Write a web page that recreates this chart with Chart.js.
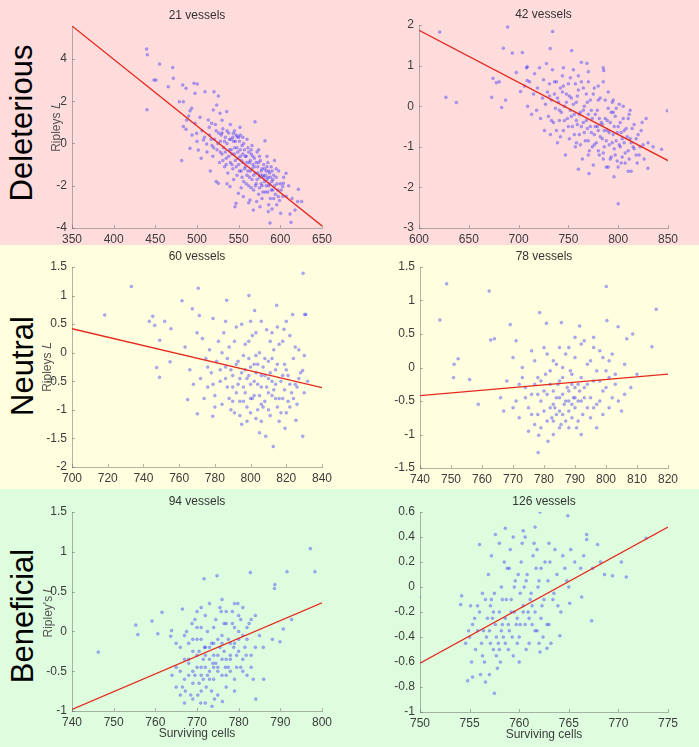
<!DOCTYPE html>
<html>
<head>
<meta charset="utf-8">
<script src="https://cdn.jsdelivr.net/npm/chart.js@4.4.1/dist/chart.umd.min.js"></script>
<style>
html, body { margin: 0; padding: 0; }
body { width: 699px; height: 747px; position: relative; overflow: hidden; font-family: "Liberation Sans", Arial, sans-serif; }
.band { position: absolute; left: 0; width: 699px; }
.rowlabel { position: absolute; font-size: 31px; color: #000; white-space: nowrap; transform: translate(-50%, -50%) rotate(-90deg); }
canvas { position: absolute; }
</style>
</head>
<body>
<div class="band" style="top:0;height:245px;background:rgb(255,220,220)"></div>
<div class="band" style="top:245px;height:244px;background:rgb(255,254,222)"></div>
<div class="band" style="top:489px;height:258px;background:rgb(222,253,222)"></div>
<div class="rowlabel" style="left:22px;top:123px">Deleterious</div>
<div class="rowlabel" style="left:23px;top:366px">Neutral</div>
<div class="rowlabel" style="left:23px;top:616px">Beneficial</div>
<script>
// ---- data: surviving cells vs Ripley's L, one cloud + fitted line per panel ----
const titles = ['21 vessels', '42 vessels', '60 vessels', '78 vessels', '94 vessels', '126 vessels'];

const xTicks21 = [350, 400, 450, 500, 550, 600, 650];
const yTicks21 = [-4, -2, 0, 2, 4];
const fit21 = [[350, 5.56], [650, -3.9]];
const pts21 = [
  [439.6,4.47],[440.4,4.2],[455,3.76],[470.8,3.6],[448.4,3.0],[450.8,3.0],[471.6,3.09],[465.6,2.69],[482.8,2.77],[486.8,2.61],
  [496.4,2.85],[500.4,2.82],[497.6,2.38],[509.6,2.45],[520.4,2.45],[525.6,2.25],[478.8,1.98],[483.6,1.98],[491.6,1.55],[493.6,1.67],
  [487.6,1.11],[483.6,0.8],[486.8,0.67],[497.6,0.96],[499.6,0.48],[503.6,1.24],[513.6,1.11],[517.6,0.96],[514.8,0.77],[507.6,0.17],
  [511.6,-0.02],[491.6,-0.23],[501.6,-0.31],[481.6,-0.81],[440,1.6],[519.6,1.59],[523.6,1.82],[527.6,1.43],[535.6,1.51],[569.6,1.03],
  [581.6,0.13],[543.6,0.48],[548.4,0.32],[551.6,0.77],[606.8,-1.41],[603.6,-1.88],[621.6,-2.17],[625.6,-2.75],[611.6,-3.34],[600.4,-3.3],
  [585.6,-3.22],[567.6,-3.15],[545.6,-2.99],[546.8,-2.83],[525.6,-1.88],[539.6,-2.04],[549.6,-2.36],[555.6,-2.51],[563.6,-2.67],[571.6,-2.75],
  [575.6,-2.99],[597.6,-2.51],[595.6,-2.9],[602.8,-2.04],[617.6,-3.15],[612.8,-3.73],[587.6,-3.76],[620.8,-2.74],
  [506,0.6],[509,0.3],[512,-0.4],[515,0.4],[518,-0.1],[519,-0.6],[521,0.2],[522,0.9],[524,-0.3],[526,0.5],[527,-0.9],[528,0.1],
  [530,-0.5],[531,0.7],[532,-0.2],[533,-1.1],[534,0.3],[535,-0.7],[536,0.0],[537,-1.4],[538,0.5],[539,-0.3],[540,-0.9],[541,0.2],
  [542,-0.5],[543,-1.2],[544,0.1],[545,-0.2],[546,-0.8],[547,0.4],[548,-1.5],[549,-0.4],[550,-1.0],[551,0.1],[552,-0.6],[553,-1.3],
  [554,-0.1],[555,-0.9],[556,-1.8],[557,-0.3],[558,-1.1],[559,-0.6],[560,-1.5],[561,-0.2],[562,-2.0],[563,-0.9],[564,-1.3],[565,-0.5],
  [566,-1.7],[567,-1.0],[568,-2.2],[569,-0.7],[570,-1.4],[571,-1.9],[572,-0.4],[573,-1.1],[574,-2.4],[575,-1.6],[576,-0.8],[577,-1.3],
  [578,-2.0],[579,-1.5],[580,-1.0],[581,-1.8],[582,-2.3],[583,-1.3],[584,-0.6],[585,-1.6],[586,-2.0],[587,-1.4],[588,-2.6],[589,-1.1],
  [590,-1.8],[591,-2.2],[592,-1.5],[594,-2.4],[596,-1.9],[598,-1.3],[599,-2.7],[601,-2.2],[604,-1.6],[607,-2.5],[610,-2.0],[614,-2.6],
  [540,0.9],[544,-1.7],[552,0.4],[560,0.2],[566,-0.1],[574,-0.3],[585,-0.9],[593,-0.8],[530,1.1],[516,-1.3],[523,-1.8],[536,-1.9],
  [505,-0.7],[500,0.1],[494,0.4],[490,1.3],[553,-2.1],[562,-2.8],[578,-2.6],[586,-2.9],[590,-3.1],
  [517,0.2],[520,-0.2],[523,0.6],[525,0.0],[528,-0.4],[529,0.4],[531,-0.8],[533,0.1],[534,-0.4],[536,0.6],[538,-0.6],[539,0.2],
  [541,-0.3],[542,-1.0],[543,0.3],[545,-0.5],[546,0.1],[547,-1.1],[548,-0.2],[549,-0.7],[550,0.3],[551,-1.3],[552,-0.3],[553,-0.8],
  [554,-1.6],[555,-0.5],[556,0.0],[557,-1.2],[558,-0.6],[559,-1.9],[560,-0.9],[561,-1.3],[562,-0.4],[563,-1.6],[564,-0.8],[565,-2.1],
  [566,-1.2],[567,-0.6],[568,-1.5],[569,-1.1],[570,-2.0],[571,-0.9],[572,-1.7],[573,-1.4],[574,-0.9],[575,-2.1],[576,-1.5],[577,-1.9],
  [578,-1.2],[579,-2.3],[580,-1.6],[581,-1.2],[582,-1.5],[583,-2.0],[584,-1.7],[585,-2.3],[586,-1.3],[587,-1.9],[588,-1.6],[589,-2.2],
  [590,-1.3],[591,-1.7],[592,-2.6],[593,-2.0],[595,-1.6],[597,-2.2],[600,-1.9],[603,-2.5],[530,0.5],[535,-1.0],[545,0.6],[555,0.3],
  [565,-0.3],[575,-0.6],[584,-1.1],[595,-1.2]
];

const xTicks42 = [600, 650, 700, 750, 800, 850];
const yTicks42 = [-3, -2, -1, 0, 1, 2];
const fit42 = [[600, 1.87], [850, -1.34]];
const pts42 = [
  [620.7,1.83],[637.5,0.09],[627,0.22],[689,1.95],[684.7,1.43],[693.7,1.31],[703.8,1.32],[674.3,0.69],[677.7,0.58],[683,-0.03],
  [687,0.15],[697.7,0.83],[734.2,1.84],[731.7,1.42],[753.3,1.37],[849.3,-0.11],[843.5,-1.06],[800,-2.4],[829.8,-1.53],[770.7,-1.66],
  [795.8,-1.74],[763,1.08],[768.6,1.06],[785,0.95],[785.5,0.88],[673,0.22],[680.6,0.6],[702,0.36],[708.7,0.63],[708.7,0.97],
  [706,0.5],[708,0.95],[709,0.0],[711,0.6],[713,-0.2],[715,0.3],[716,0.8],[718,-0.1],[719,0.45],[721,0.95],[722,-0.3],[724,0.2],
  [725,0.65],[726,-0.6],[727,0.05],[728,1.05],[729,0.35],[730,-0.25],[731,0.55],[732,-0.7],[733,0.15],[734,0.9],[735,-0.4],[736,0.3],
  [737,-0.05],[738,0.6],[739,-0.9],[740,0.1],[741,-0.35],[742,0.45],[743,-0.15],[744,0.75],[745,-0.6],[746,0.0],[747,-1.2],[748,0.3],
  [749,-0.3],[750,0.55],[751,-0.8],[752,-0.1],[753,0.2],[754,-0.5],[755,0.9],[756,-0.2],[757,-1.0],[758,0.1],[759,-0.45],[760,0.4],
  [761,-0.7],[762,-0.15],[763,0.6],[764,-1.3],[765,-0.4],[766,0.0],[767,-0.85],[768,0.3],[769,-0.55],[770,-0.2],[771,-1.1],[772,0.15],
  [773,-0.65],[774,-0.3],[775,-1.45],[776,0.45],[777,-0.5],[778,-0.9],[779,-0.1],[780,-0.6],[781,-1.2],[782,0.2],[783,-0.4],[784,-0.8],
  [785,0.6],[786,-1.0],[787,-0.3],[788,-1.5],[789,-0.6],[790,-0.05],[791,-0.95],[792,-0.4],[793,-1.25],[794,0.1],[795,-0.7],[796,-1.05],
  [797,-0.25],[798,-0.85],[799,-1.35],[800,-0.5],[801,0.05],[802,-1.0],[803,-0.65],[804,-1.25],[805,-0.3],[806,-0.9],[807,-1.4],[808,-0.55],
  [810,-1.1],[811,-0.2],[812,-0.8],[813,-1.6],[815,-1.0],[816,-0.45],[818,-1.2],[820,-0.7],[822,-1.0],[824,-0.4],[826,-1.3],[828,-0.3],
  [830,-0.9],[835,-1.0],[760,-1.55],[745,0.95],[738,-0.6],[752,0.7],[765,0.45],[775,0.3],[790,0.35],[780,0.15],[770,0.6],[758,-0.9],
  [742,-0.75],[795,-0.15],[805,0.0],[812,-0.1],[785,-1.3],[800,-1.5],[810,-1.6],[770,-1.2],[776,-0.95],[790,-1.5],
  [731,0.25],[733,-0.35],[736,0.6],[739,0.2],[741,-0.1],[744,0.35],[746,-0.35],[748,0.1],[750,-0.5],[751,0.25],[753,-0.25],[755,0.05],
  [756,-0.7],[758,-0.35],[759,0.25],[761,-0.2],[762,-0.95],[763,-0.5],[765,-0.1],[766,-0.65],[768,-0.35],[769,0.1],[770,-0.85],[772,-0.5],
  [773,-0.1],[774,-1.0],[776,-0.7],[777,-0.2],[779,-0.5],[780,-1.1],[781,-0.3],[782,-0.75],[784,-0.45],[785,-1.15],[786,-0.6],[787,0.15],
  [788,-0.85],[789,-0.35],[791,-0.65],[792,-1.3],[793,-0.15],[794,-0.9],[796,-0.5],[797,-1.2],[798,-0.05],[799,-0.65],[801,-0.95],[802,-0.4],
  [803,-1.4],[804,-0.8],[806,-0.6],[807,-1.15],[809,-0.75],[810,-0.3],[811,-1.3],[813,-0.9],[814,-0.55],[816,-1.05],[818,-0.8],[819,-1.4],
  [821,-1.2],[823,-0.6],[825,-0.95],[760,0.75],[770,0.85],[780,0.5],[745,0.5],[757,0.55],[795,0.15]
];

const xTicks60 = [700, 720, 740, 760, 780, 800, 820, 840];
const yTicks60 = [-2, -1.5, -1, -0.5, 0, 0.5, 1, 1.5];
const fit60 = [[700, 0.42], [840, -0.61]];
const pts60 = [
  [718.3,0.66],[733.2,1.16],[743.3,0.55],[745.2,0.64],[746.3,0.48],[747.4,-0.26],[749,-0.43],[749.1,0.22],[751.9,0.55],[754.9,-0.16],
  [755.4,0.42],[761.6,0.91],[763.3,0.1],[764.8,-0.82],[767.4,0.77],[770.7,1.13],[771.3,0.65],[770.2,-1.07],[778.8,-1.11],[786.6,0.92],
  [799.1,1.0],[802.3,0.74],[814.6,0.83],[812.7,-1.64],[808.5,-1.46],[829.4,1.39],[830.3,0.67],[831,0.67],[829.2,-1.46],[825.4,-1.18],
  [819.3,-1.32],[818.7,0.41],[823.6,0.67],[830.1,-0.05],[829.2,-0.31],
  [766,-0.3],[768,-0.55],[770,0.35],[772,-0.45],[773,0.25],[775,-0.1],[776,-0.6],[777,0.05],[778,-0.35],[779,0.6],[780,-0.75],[781,-0.15],
  [782,0.2],[783,-0.5],[784,-0.9],[785,0.35],[786,-0.25],[787,-0.6],[788,0.1],[789,-1.0],[790,-0.4],[791,0.2],[792,-0.7],[793,-0.15],
  [794,-0.45],[795,0.5],[796,-0.85],[797,-0.3],[798,-1.2],[799,-0.1],[800,-0.55],[801,0.3],[802,-0.75],[803,-0.35],[804,-1.0],[805,0.0],
  [806,-0.6],[807,-0.25],[808,-0.85],[809,0.4],[810,-0.45],[811,-1.1],[812,-0.1],[813,-0.65],[814,-0.3],[815,-0.95],[816,0.15],[817,-0.5],
  [818,-0.8],[819,-0.2],[820,-1.05],[821,-0.4],[822,0.3],[823,-0.7],[824,-0.1],[825,-0.55],[826,-0.9],[827,0.05],[828,-0.35],[830,-0.7],
  [832,-0.5],[798,-0.45],[802,-0.2],[806,-0.9],[810,-0.7],[804,-0.55],[800,-0.8],[796,-0.6],[808,-0.4],[812,-0.5],[814,-0.8],[790,-0.85],
  [794,-1.1],[800,-1.05],[806,-1.2],[816,-1.2],[786,0.55],[792,0.45],[799,0.2],[806,0.55],[812,0.35],[818,0.2],[780,-0.95],[784,0.0],
  [822,-0.95],[826,-0.6],[810,-0.15],[803,-0.05],
  [786,-0.45],[787,-0.1],[788,-0.8],[789,-0.3],[790,-0.6],[791,-1.05],[792,-0.2],[793,-0.55],[794,-0.85],[795,-0.35],[796,-0.05],[797,-0.7],
  [798,-0.95],[799,-0.4],[800,-0.25],[801,-0.8],[802,-0.5],[803,-1.15],[804,-0.2],[805,-0.75],[806,-0.4],[807,-0.95],[808,-0.1],[809,-0.6],
  [810,-1.0],[811,-0.35],[812,-0.75],[813,0.05],[814,-0.55],[815,-0.2],[816,-0.8],[817,-1.05],[818,-0.4],[819,-0.65],[820,-0.3],[821,-0.85],
  [822,-0.55],[824,-0.8],[825,0.1],[827,-0.45],[797,0.15],[803,0.35],[811,0.2],[815,0.45],[805,-1.4],[795,-1.25],[783,-0.3],[779,-0.55],
  [776,-0.25],[774,-0.8],[820,0.55],[800,0.55]
];

const xTicks78 = [740, 750, 760, 770, 780, 790, 800, 810, 820];
const yTicks78 = [-1.5, -1, -0.5, 0, 0.5, 1, 1.5];
const fit78 = [[740, -0.42], [820, -0.1]];
const pts78 = [
  [748.6,1.25],[746.4,0.71],[762.3,1.14],[800.1,1.21],[816.2,0.87],[814.8,0.31],[751,0.05],[752.3,0.13],[750.8,-0.15],[756,-0.18],
  [758.8,-0.55],[762.8,0.41],[764,0.43],[769.1,0.64],[778.1,-1.27],[778.6,0.82],[780.8,0.66],[785.6,0.67],[791.5,0.62],[800.3,0.7],
  [803.9,0.61],[808.6,0.5],[806.7,0.43],[781.3,-1.1],[778.3,-1.01],
  [766,-0.45],[768,-0.2],[770,0.15],[771,-0.5],[772,-0.75],[773,0.0],[774,-0.3],[775,-0.6],[776,0.25],[777,-0.85],[778,-0.15],[779,-0.5],
  [780,0.3],[781,-0.8],[782,-0.25],[783,-0.55],[784,0.05],[785,-0.9],[786,-0.4],[787,0.2],[788,-0.65],[789,-0.1],[790,-0.45],[791,-0.8],
  [792,0.35],[793,-0.3],[794,-0.6],[795,0.1],[796,-0.2],[797,-0.55],[798,0.25],[799,-0.35],[800,-0.05],[801,-0.6],[802,0.2],[803,-0.25],
  [804,-0.5],[806,0.05],[808,-0.3],[782,-0.6],[784,-0.45],[786,-0.7],[788,-0.35],[790,-0.6],[792,-0.5],[785,-0.2],[787,-0.5],[789,-0.75],
  [791,-0.25],[783,-0.8],[779,-0.9],[788,-0.9],[795,-0.75],[797,-0.9],[786,0.0],[790,0.15],[794,0.05],[780,-0.35],[776,-0.4],[772,-0.25],
  [770,-0.6],[798,-0.2],[802,-0.45],[775,-0.95],[783,0.1],[793,0.4],[796,0.3],[799,0.15],[810,-0.1],[805,-0.65],[777,0.1],[781,0.2],
  [788,0.3],[771,0.4],[767,-0.65],[783,-1.0],[792,-1.0],[785,-0.65],[789,-0.25],[778,-0.7],
  [778,-0.4],[779,-0.2],[780,-0.65],[781,-0.4],[782,-0.05],[783,-0.35],[784,-0.7],[785,-0.45],[786,-0.15],[787,-0.8],[787.5,-0.3],[788,-0.5],
  [788.5,-0.05],[789,-0.55],[790,-0.3],[790.5,-0.9],[791,-0.5],[792,-0.15],[792.5,-0.7],[793,-0.45],[794,-0.25],[795,-0.45],[796,-0.6],[797,-0.05],
  [798,-0.5],[799,-0.7],[800,-0.3],[801,-0.15],[784.5,-0.25],[786.5,-0.55],[789.5,-0.45],[783.5,-0.6],[791.5,-0.35],[785.5,-0.85],[782.5,-0.75],[780.5,-0.1],
  [776,-0.7],[774,-0.45],[773,-0.15],[777,-0.25],[796,0.45],[790,0.45],[785,0.3],[801,0.1],[803,-0.1],[806,-0.4]
];

const xTicks94 = [740, 750, 760, 770, 780, 790, 800];
const yTicks94 = [-1, -0.5, 0, 0.5, 1, 1.5];
const fit94 = [[740, -0.98], [800, 0.36]];
const pts94 = [
  [746.3,-0.26],[755.3,0.08],[755.8,-0.04],[759.2,0.13],[761.6,0.24],[760.6,-0.03],[763.9,0.01],[763.7,-0.06],[766.5,0.28],[771.7,0.66],
  [774.8,0.7],[782.8,0.74],[797.2,1.04],[798.3,0.75],[791.6,0.75],[788.7,0.59],[788.6,0.54],[788.1,-0.1],[785.9,-0.2],[786,-0.6],
  [784.1,-0.85],[790.7,0.03],[792.7,0.15],[789.9,-0.13],[776.1,-0.88],[773.6,-0.94],[770.9,-0.9],
  [765,-0.45],[766,-0.2],[766.5,-0.7],[767,-0.35],[767.5,0.0],[768,-0.55],[768.5,-0.8],[769,-0.25],[769.5,0.15],[770,-0.45],[770.5,-0.65],
  [771,-0.1],[771.5,-0.35],[772,0.2],[772.5,-0.55],[773,-0.2],[773.5,-0.75],[774,0.05],[774.5,-0.4],[775,-0.1],[775.5,0.3],[776,-0.55],
  [776.5,-0.25],[777,0.1],[777.5,-0.45],[778,-0.15],[778.5,0.25],[779,-0.6],[779.5,-0.3],[780,0.0],[780.5,-0.45],[781,0.3],[781.5,-0.2],
  [782,-0.55],[782.5,0.1],[783,-0.3],[784,0.2],[785,-0.05],[767,-0.6],[768,-0.15],[769,-0.5],[770,-0.3],[771,-0.75],[772,-0.45],[773,-0.35],
  [774,-0.6],[775,-0.3],[776,-0.05],[777,-0.35],[778,-0.5],[779,0.05],[771,0.05],[773,0.35],[775,-0.5],[777,-0.7],[769,-0.85],[772,-0.9],
  [775,-0.8],[770,0.25],[776,0.4],[779,0.35],[780,-0.25],[781,-0.05],[774,-0.15],[772,-0.2],[770,-0.1],[768,-0.35],[766,-0.5],[767,-0.05],
  [773,-0.5],[778,-0.3],[776,-0.15],[774,-0.45],[780,0.2],[782,-0.1],[783,0.15],[771,-0.55],[769,-0.65],[765,-0.7],[766,-0.8],[764,-0.55],
  [767,-0.9],[779,-0.75],[781,-0.5],[783,-0.45],[784,-0.2],[777,0.25],[771,0.3],[765,-0.15],
  [768,-0.4],[769,-0.1],[769.5,-0.55],[770,0.05],[770.5,-0.25],[771,-0.45],[771.5,-0.6],[772,-0.3],[772.5,0.0],[773,-0.6],[773.5,-0.15],[774,-0.3],
  [774.5,0.15],[775,-0.45],[775.5,-0.2],[776,-0.35],[776.5,0.1],[777,-0.55],[777.5,-0.1],[778,-0.35],[778.5,0.1],[779,-0.15],[779.5,-0.45],[780,-0.1],
  [780.5,0.15],[781,-0.35],[782,0.05],[770.2,-0.8],[772.2,-0.7],[774.2,-0.85],[767.2,-0.75],[768.8,0.1],[775.8,0.25],[778.8,-0.2],[771.8,-0.2],[773.8,-0.4],
  [776.8,-0.45],[779.8,0.35],[781.8,-0.3],[783.5,-0.6]
];

const xTicks126 = [750, 755, 760, 765, 770, 775];
const yTicks126 = [-1, -0.8, -0.6, -0.4, -0.2, 0, 0.2, 0.4, 0.6];
const fit126 = [[750, -0.61], [775, 0.48]];
const pts126 = [
  [749.9,-0.08],[762.1,0.6],[764.9,0.57],[758.6,0.47],[761.6,0.48],[760.4,0.45],[757.6,0.42],[756,0.34],[754.8,-0.75],[755.3,-0.72],
  [756.6,-0.76],[757.5,-0.85],[772.8,0.39],[770.8,0.08],[769.4,0.09],[767.9,0.34],[766.8,0.42],[766.8,0.38],[767.3,-0.27],[766.3,-0.08],
  [765.1,-0.13],[764.1,-0.39],[762.1,-0.52],[762.8,-0.49],[754.1,-0.14],[754.2,-0.07],
  [755,-0.4],[755.3,-0.3],[755.6,-0.5],[756,-0.2],[756.2,-0.45],[756.5,-0.6],[756.8,-0.25],[757,-0.35],[757.2,-0.1],[757.4,-0.5],
  [757.6,-0.3],[757.8,-0.65],[758,-0.2],[758.2,0.0],[758.4,-0.4],[758.6,-0.25],[758.8,0.15],[759,-0.35],[759.2,-0.1],[759.4,-0.55],
  [759.6,0.05],[759.8,-0.25],[760,-0.4],[760.2,0.2],[760.4,-0.15],[760.6,-0.3],[760.8,0.1],[761,-0.45],[761.2,-0.05],[761.4,0.25],
  [761.6,-0.2],[761.8,-0.35],[762,0.05],[762.3,-0.15],[762.6,0.2],[763,-0.3],[763.4,-0.1],[763.8,0.1],[764.2,-0.2],[764.6,0.15],
  [765,0.0],[756.4,-0.35],[757.1,-0.15],[757.9,-0.45],[758.3,-0.3],[758.9,-0.5],[759.5,-0.2],[760.1,-0.05],[760.7,-0.5],[761.3,-0.3],
  [759.1,0.3],[758.5,0.2],[760.3,0.35],[761.8,0.3],[762.4,-0.4],[756.9,0.1],[757.5,-0.05],[755.8,-0.15],[755.2,-0.6],[756.1,-0.7],
  [758.1,-0.6],[759.3,-0.4],[758.7,-0.1],[759.9,0.1],[760.9,-0.2],[761.7,0.15],[762.9,0.05],[763.6,0.3],[764.4,0.25],[765.6,0.2],
  [766.2,0.15],[763.2,-0.45],[757.3,-0.25],[758.2,-0.35],[759.7,-0.3],[760.5,0.0],[761.1,-0.1],[756.7,-0.4],[757.7,-0.55],[755.5,-0.25],
  [754.6,-0.45],[754.9,-0.35],[762.2,-0.25],[763.5,-0.05],[768.2,0.2],[767.4,0.15],[770.3,0.2],[757.2,0.25],[759.4,0.4],[760.6,0.4],
  [755.8,-0.35],[756.3,-0.55],[756.6,-0.1],[757.1,-0.45],[757.4,-0.2],[757.7,-0.4],[758,-0.5],[758.3,-0.1],[758.6,-0.45],[758.9,-0.3],
  [759.2,-0.2],[759.5,0.0],[759.8,-0.45],[760.1,-0.3],[760.4,-0.2],[760.7,0.05],[761,-0.25],[761.3,-0.15],[761.6,-0.35],[761.9,0.0],
  [762.2,0.15],[762.5,-0.1],[762.8,-0.3],[763.1,0.2],[763.9,-0.15],[764.8,0.05],[759,0.15],[758,0.35],[760,-0.6],[761.5,0.35],
  [757,-0.7],[756.3,-0.05],[755.1,-0.15],[762,-0.45],[763,0.35],[765.2,0.3],[766.5,0.25],[768.6,0.1]
];

// ---- layout (plot-area boxes in page pixels: left, top, right, bottom) ----
const NARROW = '"Liberation Sans Narrow", "Liberation Sans", Arial, sans-serif';
const AXIS = 'rgba(105,105,105,0.5)';
const YW = 40, PR = 20, TH = 18;

const panels = [
  { title: titles[0], pts: pts21, fit: fit21, xt: xTicks21, yt: yTicks21, yMax: 5.56, box: [72, 26, 322, 228], yTitle: 'Ripleys 𝐿', yPad: 17 },
  { title: titles[1], pts: pts42, fit: fit42, xt: xTicks42, yt: yTicks42, box: [419, 25, 668, 228] },
  { title: titles[2], pts: pts60, fit: fit60, xt: xTicks60, yt: yTicks60, box: [72, 267, 322, 467], yTitle: 'Ripleys 𝐿', yPad: 8 },
  { title: titles[3], pts: pts78, fit: fit78, xt: xTicks78, yt: yTicks78, box: [420, 267, 668, 468] },
  { title: titles[4], pts: pts94, fit: fit94, xt: xTicks94, yt: yTicks94, box: [72, 512, 322, 711], yTitle: "Ripley's 𝐿", yPad: 9, xTitle: 'Surviving cells' },
  { title: titles[5], pts: pts126, fit: fit126, xt: xTicks126, yt: yTicks126, box: [420, 512, 668, 712], xTitle: 'Surviving cells' }
];

// MATLAB-style tick marks pointing into the plot
const innerTicks = {
  id: 'innerTicks',
  afterDraw(chart) {
    const { ctx, chartArea: a, scales: { x, y } } = chart;
    ctx.save();
    ctx.strokeStyle = AXIS;
    ctx.lineWidth = 1;
    ctx.beginPath();
    x.ticks.forEach(t => {
      const px = Math.round(x.getPixelForValue(t.value)) + 0.5;
      ctx.moveTo(px, a.bottom); ctx.lineTo(px, a.bottom - 3);
    });
    y.ticks.forEach(t => {
      const py = Math.round(y.getPixelForValue(t.value)) + 0.5;
      ctx.moveTo(a.left, py); ctx.lineTo(a.left + 3, py);
    });
    ctx.stroke();
    ctx.restore();
  }
};

function makePanel(p) {
  const XH = p.xTitle ? 30 : 22;
  const [l, t, r, b] = p.box;
  const w = (r - l) + YW + PR;
  const h = TH + (b - t) + XH;
  const c = document.createElement('canvas');
  c.width = w; c.height = h;
  c.style.left = (l - YW) + 'px';
  c.style.top = (t - TH) + 'px';
  c.style.width = w + 'px';
  c.style.height = h + 'px';
  document.body.appendChild(c);

  new Chart(c, {
    type: 'scatter',
    data: {
      datasets: [
        {
          type: 'line',
          data: p.fit.map(([x, y]) => ({ x, y })),
          borderColor: 'rgb(228,42,30)',
          borderWidth: 1.3,
          pointRadius: 0,
          fill: false,
          order: 0
        },
        {
          data: p.pts.map(([x, y]) => ({ x, y })),
          pointRadius: 1.5,
          backgroundColor: 'rgba(30,30,255,0.36)',
          borderColor: 'rgba(30,30,255,0.28)',
          borderWidth: 0.6,
          order: 1
        }
      ]
    },
    options: {
      responsive: false,
      animation: false,
      events: [],
      layout: { padding: { top: 0, left: 0, right: PR, bottom: 0 } },
      plugins: {
        legend: { display: false },
        tooltip: { enabled: false },
        title: {
          display: true,
          text: p.title,
          fullSize: false,
          color: '#333',
          font: { family: NARROW, size: 12, weight: 'normal', lineHeight: 1 },
          padding: { top: 2, bottom: 4 }
        }
      },
      scales: {
        x: {
          type: 'linear',
          min: p.xt[0],
          max: p.xt[p.xt.length - 1],
          afterBuildTicks: s => { s.ticks = p.xt.map(v => ({ value: v })); },
          afterFit: s => { s.height = XH; },
          grid: { display: false, drawTicks: false },
          border: { display: true, color: AXIS, width: 1 },
          ticks: { font: { family: NARROW, size: 12 }, color: '#3c3c3c', padding: 4, maxRotation: 0, autoSkip: false, callback: v => String(v) },
          title: {
            display: !!p.xTitle,
            text: p.xTitle || '',
            color: '#3c3c3c',
            font: { family: NARROW, size: 12 },
            padding: { top: 0, bottom: 0 }
          }
        },
        y: {
          type: 'linear',
          min: p.yt[0],
          max: p.yMax !== undefined ? p.yMax : p.yt[p.yt.length - 1],
          afterBuildTicks: s => { s.ticks = p.yt.map(v => ({ value: v })); },
          afterFit: s => { s.width = YW; },
          grid: { display: false, drawTicks: false },
          border: { display: true, color: AXIS, width: 1 },
          ticks: { font: { family: NARROW, size: 12 }, color: '#3c3c3c', padding: 5, autoSkip: false, callback: v => String(v) },
          title: {
            display: !!p.yTitle,
            text: p.yTitle || '',
            color: '#555',
            font: { family: '"Liberation Sans", Arial, sans-serif', size: 12 },
            padding: { top: p.yPad || 0, bottom: 0 }
          }
        }
      }
    },
    plugins: [innerTicks]
  });
}

panels.forEach(makePanel);
</script>
</body>
</html>
